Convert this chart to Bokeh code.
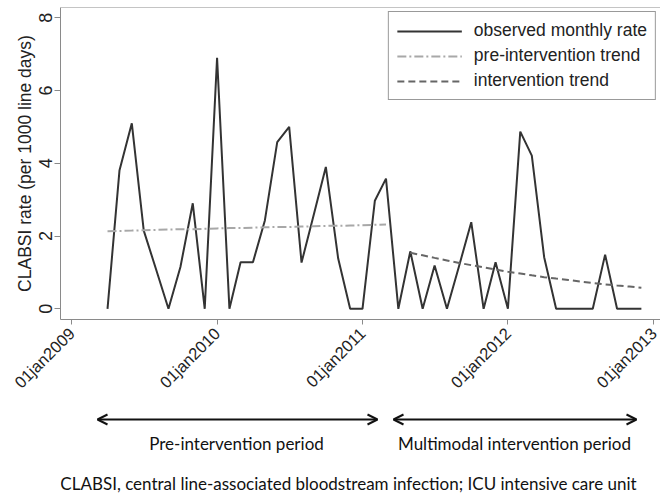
import pandas as pd
from bokeh.plotting import figure
from bokeh.models import (FixedTicker, Range1d, Span, Legend, LegendItem,
                          Arrow, OpenHead, Label)
from bokeh.layouts import column
from bokeh.embed import file_html
from bokeh.resources import INLINE
import math

# ---------------- data ----------------
obs_start = "2009-04-01"
observed = [0.0, 3.8, 5.1, 2.15, 1.08, 0.0, 1.15, 2.9, 0.0,
            6.9, 0.0, 1.28, 1.28, 2.43, 4.58, 5.0, 1.27, 2.6, 3.9, 1.38, 0.0,
            0.0, 2.97, 3.58, 0.0, 1.58, 0.0, 1.19, 0.0, 1.2, 2.38, 0.0, 1.28,
            0.0, 4.87, 4.21, 1.42, 0.0, 0.0, 0.0, 0.0, 1.49, 0.0, 0.0, 0.0]

pre_start = "2009-04-01"
pre_trend = [2.13, 2.14, 2.15, 2.16, 2.17, 2.18, 2.19, 2.19, 2.20, 2.21, 2.22, 2.22,
             2.23, 2.24, 2.25, 2.25, 2.26, 2.27, 2.28, 2.28, 2.29, 2.30, 2.31, 2.32]

int_start = "2011-05-01"
int_trend = [1.54, 1.47, 1.40, 1.33, 1.26, 1.20, 1.14, 1.08, 1.02, 0.97,
             0.92, 0.87, 0.83, 0.79, 0.75, 0.71, 0.67, 0.64, 0.61, 0.58]

tick_dates = ["2009-01-01", "2010-01-01", "2011-01-01", "2012-01-01", "2013-01-01"]
tick_labels = ["01jan2009", "01jan2010", "01jan2011", "01jan2012", "01jan2013"]
y_ticks = [0, 2, 4, 6, 8]

legend_labels = ["observed monthly rate", "pre-intervention trend", "intervention trend"]
period_labels = ["Pre-intervention period", "Multimodal intervention period"]
caption = "CLABSI, central line-associated bloodstream infection; ICU intensive care unit"
y_title = "CLABSI rate (per 1000 line days)"

# ---------------- main chart ----------------
obs_dates = pd.date_range(obs_start, periods=len(observed), freq="MS")
pre_dates = pd.date_range(pre_start, periods=len(pre_trend), freq="MS")
int_dates = pd.date_range(int_start, periods=len(int_trend), freq="MS")

W = 660
H1 = 401
H2 = 493 - H1
FRAME_LEFT = 60

p = figure(width=W, height=H1, x_axis_type="datetime",
           output_backend="svg", toolbar_location=None,
           x_range=Range1d(pd.Timestamp("2008-12-04"), pd.Timestamp("2013-01-18")),
           y_range=Range1d(-0.294, 8.283),
           min_border_left=FRAME_LEFT, min_border_right=0, min_border_top=7,
           min_border_bottom=82)
p.background_fill_color = "white"
p.border_fill_color = "white"
p.outline_line_color = None
p.grid.visible = False

axis_color = "#8a8a8a"
# x axis
ticks_ms = [int(pd.Timestamp(d).value // 10**6) for d in tick_dates]
p.xaxis.ticker = FixedTicker(ticks=ticks_ms)
p.xaxis.major_label_overrides = {t: l for t, l in zip(ticks_ms, tick_labels)}
p.xaxis.major_label_orientation = math.pi / 4
p.xaxis.major_label_text_font = "Liberation Sans"
p.xaxis.major_label_text_font_size = "16.5px"
p.xaxis.major_label_text_color = "#222222"
p.xaxis.major_label_standoff = 6
p.xaxis.major_tick_out = 5
p.xaxis.major_tick_in = 0
p.xaxis.minor_tick_line_color = None
p.xaxis.axis_line_color = axis_color
p.xaxis.major_tick_line_color = axis_color

# y axis
p.yaxis.ticker = FixedTicker(ticks=y_ticks)
p.yaxis.major_label_orientation = "vertical"
p.yaxis.major_label_text_font = "Liberation Sans"
p.yaxis.major_label_text_font_size = "18px"
p.yaxis.major_label_text_color = "#222222"
p.yaxis.major_label_standoff = 2
p.yaxis.major_tick_out = 6
p.yaxis.major_tick_in = 0
p.yaxis.minor_tick_line_color = None
p.yaxis.axis_line_color = axis_color
p.yaxis.major_tick_line_color = axis_color
p.yaxis.axis_label = y_title
p.yaxis.axis_label_text_font = "Liberation Sans"
p.yaxis.axis_label_text_font_size = "17.5px"
p.yaxis.axis_label_text_font_style = "normal"
p.yaxis.axis_label_text_color = "#222222"
p.yaxis.axis_label_standoff = 2

# top frame line
p.add_layout(Span(location=8.283, dimension="width", line_color=axis_color, line_width=1))

r_obs = p.line(obs_dates, observed, line_color="#333333", line_width=2)
r_pre = p.line(pre_dates, pre_trend, line_color="#a8a8a8", line_width=2,
               line_dash="9 3 2 3")
r_int = p.line(int_dates, int_trend, line_color="#666666", line_width=2,
               line_dash="7 4")

legend = Legend(items=[LegendItem(label=legend_labels[0], renderers=[r_obs]),
                       LegendItem(label=legend_labels[1], renderers=[r_pre]),
                       LegendItem(label=legend_labels[2], renderers=[r_int])],
                location="top_right")
legend.border_line_color = "#333333"
legend.border_line_width = 1
legend.background_fill_color = "white"
legend.background_fill_alpha = 1
legend.label_text_font = "Liberation Sans"
legend.label_text_font_size = "17.5px"
legend.label_text_color = "#222222"
legend.glyph_width = 65
legend.glyph_height = 20
legend.label_height = 20
legend.label_standoff = 12
legend.padding = 8
legend.spacing = 4
legend.margin = 4
p.add_layout(legend)

# ---------------- annotation strip below ----------------
# frame of this strip is aligned with the main frame by the column layout,
# so its x range is expressed in page pixels from FRAME_LEFT to W
q = figure(width=W, height=H2, output_backend="svg", toolbar_location=None,
           x_range=Range1d(FRAME_LEFT, W), y_range=Range1d(H2, 0),
           x_axis_location=None, y_axis_location=None,
           min_border_left=FRAME_LEFT, min_border_right=0,
           min_border_top=0, min_border_bottom=0)
q.outline_line_color = None
q.grid.visible = False
q.background_fill_color = "white"
q.border_fill_color = "white"

arrow_y = 18
for xs, xe in [(97, 377), (393, 636)]:
    q.add_layout(Arrow(x_start=xs, y_start=arrow_y, x_end=xe, y_end=arrow_y,
                       line_color="#111111", line_width=2,
                       start=OpenHead(size=10, line_width=2, line_color="#111111"),
                       end=OpenHead(size=10, line_width=2, line_color="#111111")))

for txt, cx in zip(period_labels, [236, 514]):
    q.add_layout(Label(x=cx, y=42, text=txt, text_align="center",
                       text_baseline="middle", text_font="Lato",
                       text_font_size="17px", text_color="#111111"))

q.add_layout(Label(x=348, y=82, text=caption, text_align="center",
                   text_baseline="middle", text_font="Lato",
                   text_font_size="17px", text_color="#111111"))

layout = column(p, q, spacing=0)
open("out.html", "w").write(file_html(layout, INLINE))
